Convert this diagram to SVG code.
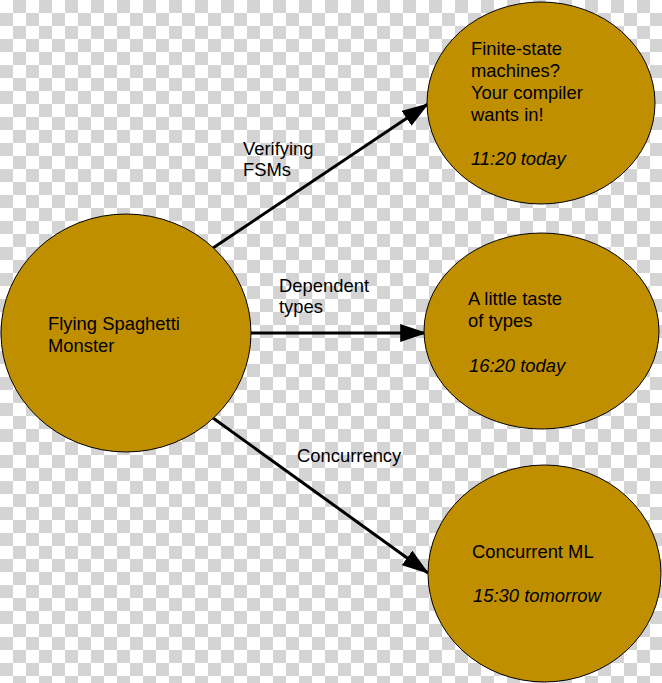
<svg xmlns="http://www.w3.org/2000/svg" width="662" height="683" viewBox="0 0 662 683">
<defs>
<marker id="arrow" markerWidth="9" markerHeight="6" refX="8.6" refY="3" orient="auto" markerUnits="strokeWidth">
<path d="M0,0 L9,3 L0,6 Z" fill="#000"/>
</marker>
<style>
.ck { stroke: #d4d4d4; stroke-width: 13; stroke-dasharray: 13 13; fill: none; }
.node { fill: #bf8f00; stroke: #000; stroke-width: 1; }
.edge { stroke: #000; stroke-width: 3; fill: none; marker-end: url(#arrow); }
text { font-family: "Liberation Sans", Arial, sans-serif; font-size: 18.4px; fill: #000; }
.it { font-style: italic; }
</style>
</defs>
<rect width="662" height="683" fill="#ffffff"/>
<path class="ck" d="M13,6.5H662 M0,19.5H662 M13,32.5H662 M0,45.5H662 M13,58.5H662 M0,71.5H662 M13,84.5H662 M0,97.5H662 M13,110.5H662 M0,123.5H662 M13,136.5H662 M0,149.5H662 M13,162.5H662 M0,175.5H662 M13,188.5H662 M0,201.5H662 M13,214.5H662 M0,227.5H662 M13,240.5H662 M0,253.5H662 M13,266.5H662 M0,279.5H662 M13,292.5H662 M0,305.5H662 M13,318.5H662 M0,331.5H662 M13,344.5H662 M0,357.5H662 M13,370.5H662 M0,383.5H662 M13,396.5H662 M0,409.5H662 M13,422.5H662 M0,435.5H662 M13,448.5H662 M0,461.5H662 M13,474.5H662 M0,487.5H662 M13,500.5H662 M0,513.5H662 M13,526.5H662 M0,539.5H662 M13,552.5H662 M0,565.5H662 M13,578.5H662 M0,591.5H662 M13,604.5H662 M0,617.5H662 M13,630.5H662 M0,643.5H662 M13,656.5H662 M0,669.5H662 M13,682.5H662"/>
<g id="connectors">
<line class="edge" x1="213" y1="248" x2="428" y2="104"/>
<line class="edge" x1="251" y1="333" x2="426" y2="333"/>
<line class="edge" x1="213" y1="418" x2="428" y2="573"/>
<text x="243" y="155">Verifying</text>
<text x="243" y="176">FSMs</text>
<text x="279" y="292">Dependent</text>
<text x="279" y="313">types</text>
<text x="297" y="462">Concurrency</text>
</g>
<g id="fsm">
<ellipse class="node" cx="126" cy="333" rx="125" ry="119"/>
<text x="48" y="330">Flying Spaghetti</text>
<text x="48" y="352">Monster</text>
</g>
<g id="finite-state">
<ellipse class="node" cx="541" cy="103" rx="114" ry="101"/>
<text x="471" y="55">Finite-state</text>
<text x="471" y="77">machines?</text>
<text x="471" y="99">Your compiler</text>
<text x="471" y="121">wants in!</text>
<text class="it" x="471" y="165">11:20 today</text>
</g>
<g id="types">
<ellipse class="node" cx="541.5" cy="331" rx="117.5" ry="98"/>
<text x="468" y="305">A little taste</text>
<text x="468" y="327">of types</text>
<text class="it" x="469" y="372">16:20 today</text>
</g>
<g id="concurrent-ml">
<ellipse class="node" cx="544.5" cy="573.5" rx="116.5" ry="108.5"/>
<text x="472" y="558">Concurrent ML</text>
<text class="it" x="473" y="602">15:30 tomorrow</text>
</g>
</svg>
